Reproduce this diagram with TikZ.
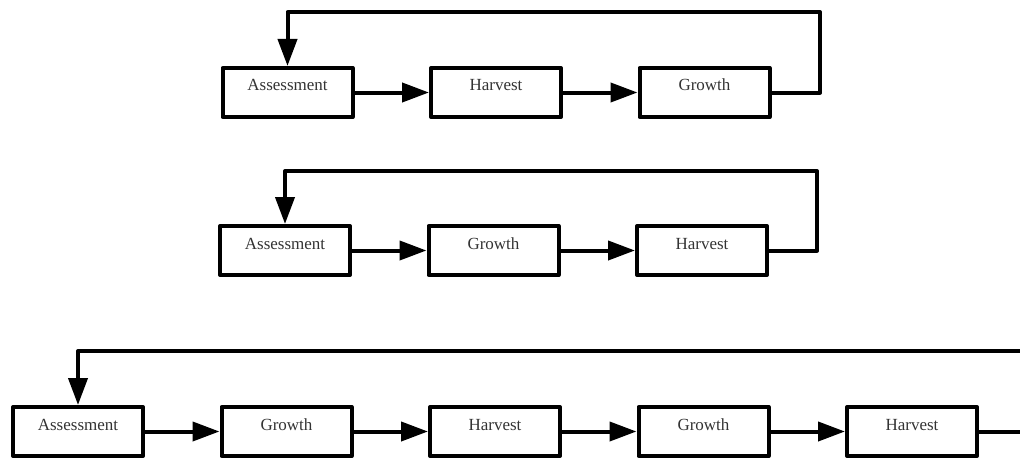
\documentclass[tikz,border=0pt]{standalone}
\usepackage{fontspec}
\setmainfont{Liberation Serif}
\usetikzlibrary{arrows.meta}

\begin{document}
\begin{tikzpicture}[x=1pt, y=-1pt, >={Triangle[length=27pt,width=19pt]}, line width=4pt, line join=round]

    % box style
    \tikzset{stage/.style={draw, rectangle, inner sep=0pt, minimum width=130pt,
        text height=23pt, text depth=26pt, text=black!80, font=\fontsize{17}{20}\selectfont}}

    % common variables
    \def\xspacing{208.5}   % horizontal distance between boxes

    \useasboundingbox (0,0) rectangle (1020,460);
    \clip (0,0) rectangle (1020,460);

    % first cycle: 3 boxes
    \foreach \txt [count=\i] in {Assessment,Harvest,Growth} {
      \node[stage] (p\i) at ({287.5+(\i-1)*\xspacing}, 92.5) {\txt};
    }

    % second cycle: 3 boxes
    \foreach \txt [count=\i] in {Assessment,Growth,Harvest} {
      \node[stage] (q\i) at ({285+(\i-1)*\xspacing}, 250.5) {\txt};
    }

    % third cycle: 5 boxes
    \foreach \txt [count=\i] in {Assessment,Growth,Harvest,Growth,Harvest} {
      \node[stage] (s\i) at ({78+(\i-1)*\xspacing}, 431.5) {\txt};
    }

    % arrows between the boxes
    \foreach \i [count=\j from 2] in {1,2} {
      \draw[->] (p\i.east) -- (p\j.west);
      \draw[->] (q\i.east) -- (q\j.west);
    }
    \foreach \i [count=\j from 2] in {1,...,4} {
      \draw[->] (s\i.east) -- (s\j.west);
    }

    % feedback lines
    \coordinate (back1) at (820,12);
    \coordinate (back2) at (817,171);
    \coordinate (back3) at (1030,351);
    \draw[->] (p3.east) -| (back1) -| (p1.north);
    \draw[->] (q3.east) -| (back2) -| (q1.north);
    \draw[->] (s5.east) -| (back3) -| (s1.north);

\end{tikzpicture}
\end{document}
